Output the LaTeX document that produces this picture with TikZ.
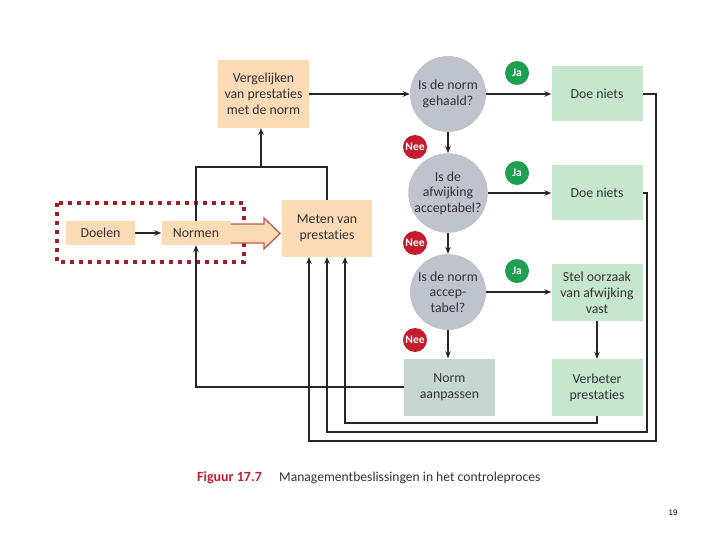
\documentclass[tikz,border=0pt]{standalone}
\usepackage{fontspec}
\setmainfont{Carlito}[Ligatures=NoCommon]
\newfontfamily\numfont{Liberation Sans}
\usetikzlibrary{arrows.meta,calc}
\definecolor{peach}{HTML}{FBDAB6}
\definecolor{mint}{HTML}{C6E7CE}
\definecolor{grayc}{HTML}{BEC3CC}
\definecolor{aanpc}{HTML}{C8D6D2}
\definecolor{jagreen}{HTML}{1EA050}
\definecolor{neered}{HTML}{C31E2D}
\definecolor{dotred}{HTML}{A01E28}
\definecolor{arrred}{HTML}{C8564A}
\definecolor{txt}{HTML}{333333}
\tikzset{
  box/.style={inner sep=2pt, align=center, font=\fontsize{13.8}{16}\selectfont, text=txt},
  pbox/.style={box, fill=peach},
  gbox/.style={box, fill=mint},
  circ/.style={circle, fill=grayc, minimum size=76pt, inner sep=0pt, align=center, font=\fontsize{13.8}{15.5}\selectfont, text=txt},
  conn/.style={line width=1.6pt, draw=black!85},
  arr/.style={conn, -{Stealth[length=7pt,width=5.5pt]}},
  badge/.style={circle, minimum size=24pt, inner sep=0pt, text=white, font=\fontsize{11.5}{11.5}\selectfont\bfseries},
}
\begin{document}
\begin{tikzpicture}[x=1pt,y=-1pt]
\useasboundingbox (0,0) rectangle (720,540);
% nodes
\node[pbox, minimum width=91pt, minimum height=68pt] (verg) at (263.5,94) {Vergelijken\\van prestaties\\met de norm};
\node[pbox, minimum width=69pt, minimum height=24pt] (doel) at (100.5,233) {Doelen};
\node[pbox, minimum width=69pt, minimum height=24pt] (norm) at (196,233) {Normen};
\node[pbox, minimum width=90pt, minimum height=57pt] (meten) at (327,228.5) {Meten van\\prestaties};
\node[circ] (c1) at (448,94) {Is de norm\\gehaald?};
\node[circ] (c2) at (448,193) {Is de\\afwijking\\acceptabel?};
\node[circ] (c3) at (448,292) {Is de norm\\accep-\\tabel?};
\node[gbox, minimum width=91pt, minimum height=55pt] (doe1) at (597,94) {Doe niets};
\node[gbox, minimum width=91pt, minimum height=55pt] (doe2) at (597,193) {Doe niets};
\node[gbox, minimum width=91pt, minimum height=57pt] (stel) at (597,292.5) {Stel oorzaak\\van afwijking\\vast};
\node[gbox, minimum width=91pt, minimum height=57pt] (verb) at (597,387.5) {Verbeter\\prestaties};
\node[box, fill=aanpc, minimum width=91pt, minimum height=57pt] (aanp) at (449.5,387) {Norm\\aanpassen};
% badges
\node[badge, fill=neered] (n1) at (415,147) {Nee};
\node[badge, fill=neered] (n2) at (415,243) {Nee};
\node[badge, fill=neered] (n3) at (415,340) {Nee};
\node[badge, fill=jagreen] (j1) at (517,73) {Ja};
\node[badge, fill=jagreen] (j2) at (517,173) {Ja};
\node[badge, fill=jagreen] (j3) at (517,271) {Ja};
% dotted frame
\draw[dotred, line width=3.5pt, dash pattern=on 4pt off 5pt] (57,203) rectangle (244,262);
% big hollow arrow
\draw[arrred, line width=1.3pt, fill=peach] (231,224) -- (264,224) -- (264,218) -- (280,233.5) -- (264,249) -- (264,243) -- (231,243);
% coordinates
\coordinate (jn) at (261,167);
\coordinate (m1) at (309,257);
\coordinate (m2) at (327,257);
\coordinate (m3) at (345,257);
% connectors
\draw[arr] (doel) -- (norm);
\draw[conn] (norm.north) |- (jn) -| (meten.north);
\draw[arr] (jn) -- (jn |- verg.south);
\draw[arr] (verg.east) -- (c1.west);
\draw[arr] (c1) -- (doe1);
\draw[arr] (c2) -- (doe2);
\draw[arr] (c3.east) -- (c3.east -| stel.west);
\draw[arr] (c1) -- (c2);
\draw[arr] (c2) -- (c3);
\draw[arr] (c3.south) -- (c3.south |- aanp.north);
\draw[arr] (stel) -- (verb);
\draw[arr] (aanp.west) -| (norm.south);
\draw[arr] (verb.south) -- ++(0,7) -| (m3);
\draw[arr] (doe2.east) -| (647,432) -| (m2);
\draw[arr] (doe1.east) -| (656,441) -| (m1);
% caption
\node[anchor=base west, inner sep=0pt, text=neered, font=\fontsize{14}{16}\selectfont\bfseries] (fig) at (197,481) {Figuur 17.7};
\node[anchor=base west, inner sep=0pt, text=txt, font=\fontsize{13.6}{16}\selectfont] (cap) at (279,481) {Managementbeslissingen in het controleproces};
\node[inner sep=0pt, font=\numfont\fontsize{8}{9}\selectfont] (pg) at (673,513) {19};
\end{tikzpicture}
\end{document}
